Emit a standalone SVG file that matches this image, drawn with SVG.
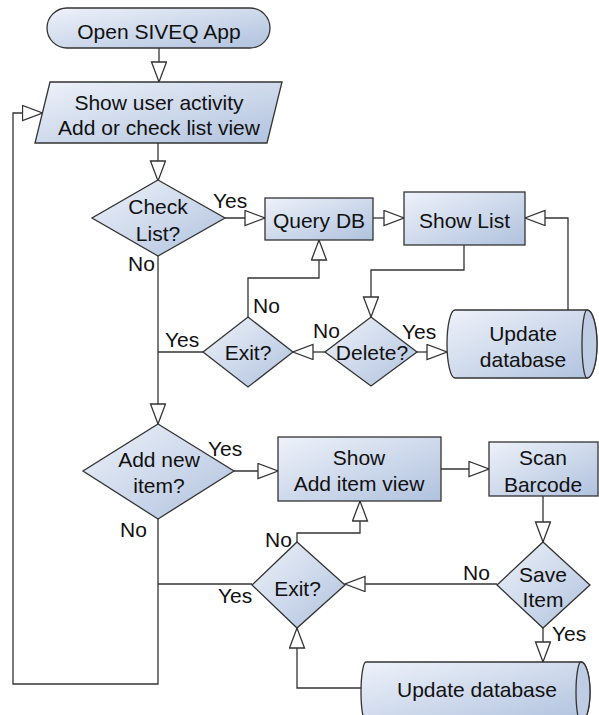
<svg xmlns="http://www.w3.org/2000/svg" width="599" height="715" viewBox="0 0 599 715">
<defs>
<linearGradient id="g" x1="0" y1="0" x2="1" y2="1">
<stop offset="0" stop-color="#eef2fa"/>
<stop offset="1" stop-color="#b0c2de"/>
</linearGradient>
<marker id="a" markerUnits="userSpaceOnUse" markerWidth="24" markerHeight="18" refX="21" refY="8" orient="auto">
<path d="M1,0.5 L21,8 L1,15.5 Z" fill="#fff" stroke="#333" stroke-width="1.3"/>
</marker>
</defs>
<style>
.s{fill:url(#g);stroke:#333;stroke-width:1.3}
.c{fill:#bfcde4;stroke:#333;stroke-width:1.3}
.t{font-family:"Liberation Sans",Arial,sans-serif;font-size:21px;fill:#111;text-anchor:middle}
.l{font-family:"Liberation Sans",Arial,sans-serif;font-size:21px;fill:#111}
.e{fill:none;stroke:#333;stroke-width:1.3}
</style>
<rect width="599" height="715" fill="#fff"/>
<g id="connectors">
<path class="e" d="M159,48 V82" marker-end="url(#a)"/>
<path class="e" d="M158,143 V181" marker-end="url(#a)"/>
<path class="e" d="M225,218 H265" marker-end="url(#a)"/>
<path class="e" d="M373,218 H404" marker-end="url(#a)"/>
<path class="e" d="M568,310 V218 H525" marker-end="url(#a)"/>
<path class="e" d="M464,245 V270 H371 V317" marker-end="url(#a)"/>
<path class="e" d="M417,352 H447" marker-end="url(#a)"/>
<path class="e" d="M325,352 H293" marker-end="url(#a)"/>
<path class="e" d="M248,317 V278 H319 V240" marker-end="url(#a)"/>
<path class="e" d="M203,352 H158"/>
<path class="e" d="M158,256 V424" marker-end="url(#a)"/>
<path class="e" d="M234,471 H278" marker-end="url(#a)"/>
<path class="e" d="M158,519 V684 H13 V113 H42.5" marker-end="url(#a)"/>
<path class="e" d="M252,584 H158"/>
<path class="e" d="M297,542 V533 H360 V501" marker-end="url(#a)"/>
<path class="e" d="M441,469 H489" marker-end="url(#a)"/>
<path class="e" d="M543,496 V542" marker-end="url(#a)"/>
<path class="e" d="M497,584 H345" marker-end="url(#a)"/>
<path class="e" d="M543,628 V662" marker-end="url(#a)"/>
<path class="e" d="M363,688 H297 V628" marker-end="url(#a)"/>
</g>
<g id="labels">
<text class="l" x="213" y="208">Yes</text>
<text class="l" x="128" y="271">No</text>
<text class="l" x="253" y="313">No</text>
<text class="l" x="165" y="347">Yes</text>
<text class="l" x="313" y="338">No</text>
<text class="l" x="402" y="339">Yes</text>
<text class="l" x="208" y="456">Yes</text>
<text class="l" x="120" y="537">No</text>
<text class="l" x="218" y="603">Yes</text>
<text class="l" x="265" y="547">No</text>
<text class="l" x="463" y="580">No</text>
<text class="l" x="552" y="641">Yes</text>
</g>
<g id="start">
<rect class="s" x="47" y="8" width="223" height="40" rx="20" ry="20"/>
<text class="t" x="159" y="38.5">Open SIVEQ App</text>
</g>
<g id="activity">
<polygon class="s" points="50,82 282,82 267,143 35,143"/>
<text class="t" x="159" y="110">Show user activity</text>
<text class="t" x="159" y="135">Add or check list view</text>
</g>
<g id="checklist">
<polygon class="s" points="158,180 225,218 158,256 92,218"/>
<text class="t" x="158" y="214">Check</text>
<text class="t" x="158" y="241">List?</text>
</g>
<g id="querydb">
<rect class="s" x="265" y="198" width="108" height="42"/>
<text class="t" x="319" y="228">Query DB</text>
</g>
<g id="showlist">
<rect class="s" x="404" y="192" width="121" height="53"/>
<text class="t" x="464.5" y="228">Show List</text>
</g>
<g id="delete">
<polygon class="s" points="371,317 417,352 371,386 325,352"/>
<text class="t" x="372" y="360">Delete?</text>
</g>
<g id="exit1">
<polygon class="s" points="248,317 293,352 248,387 203,352"/>
<text class="t" x="248" y="360">Exit?</text>
</g>
<g id="update1">
<path class="s" d="M455,310 H587 A10,34 0 0 1 587,378 H455 A8,34 0 0 1 455,310 Z"/>
<path class="c" d="M587,310 A10,34 0 0 1 587,378 A5,34 0 0 1 587,310 Z"/>
<text class="t" x="523" y="341">Update</text>
<text class="t" x="523" y="367">database</text>
</g>
<g id="addnew">
<polygon class="s" points="158,424 234,471 158,519 83,471"/>
<text class="t" x="159" y="467">Add new</text>
<text class="t" x="159" y="493">item?</text>
</g>
<g id="showadd">
<rect class="s" x="278" y="437" width="163" height="64"/>
<text class="t" x="359" y="465">Show</text>
<text class="t" x="359" y="491">Add item view</text>
</g>
<g id="scan">
<rect class="s" x="489" y="442" width="109" height="54"/>
<text class="t" x="543" y="465">Scan</text>
<text class="t" x="543" y="492">Barcode</text>
</g>
<g id="saveitem">
<polygon class="s" points="543,542 590,585 543,628 497,585"/>
<text class="t" x="543" y="582">Save</text>
<text class="t" x="543" y="607">Item</text>
</g>
<g id="exit2">
<polygon class="s" points="297,542 345,585 297,628 252,585"/>
<text class="t" x="297.5" y="596">Exit?</text>
</g>
<g id="update2">
<path class="s" d="M366,662 H581 A9,30 0 0 1 581,722 H366 A5,30 0 0 1 366,662 Z"/>
<path class="c" d="M581,662 A9,30 0 0 1 581,722 A5,30 0 0 1 581,662 Z"/>
<text class="t" x="477" y="697">Update database</text>
</g>
</svg>
